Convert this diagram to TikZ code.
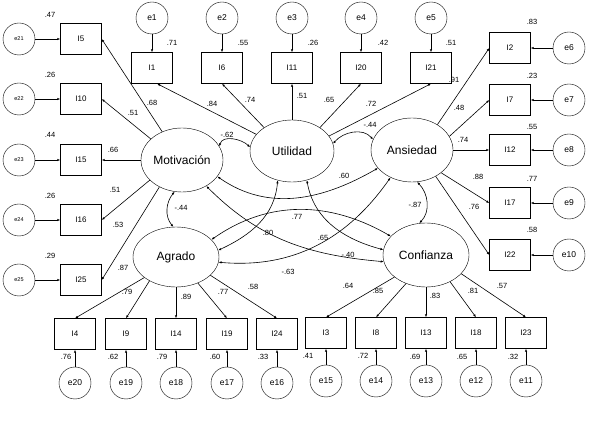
\documentclass[tikz,border=0pt]{standalone}
\usepackage{fontspec}
\setmainfont{Liberation Sans}
\usetikzlibrary{shapes.geometric,arrows.meta}

\begin{document}
\begin{tikzpicture}[x=1pt, y=1pt,
  obs/.style={draw, rectangle, minimum width=41pt, minimum height=31pt,
    inner sep=0pt, font=\fontsize{8}{9}\selectfont},
  err/.style={draw, circle, minimum size=32pt, inner sep=0pt,
    font=\fontsize{8.5}{9}\selectfont},
  errsmall/.style={err, font=\fontsize{5.5}{6}\selectfont},
  lat/.style={draw, ellipse, inner sep=0pt,
    label={[font=\fontsize{12}{14}\selectfont]center:#1}},
  coef/.style={font=\fontsize{7.5}{8}\selectfont, inner sep=0pt},
  load/.style={-{Latex[length=3pt, width=2.4pt]}, line width=0.6pt},
  cov/.style={{Latex[length=3pt, width=2.4pt]}-{Latex[length=3pt, width=2.4pt]},
    line width=0.6pt},
]
  \useasboundingbox (0,0) rectangle (590,-422);

  % latent factors
  \node[lat=Motivación, minimum width=82pt, minimum height=64pt] (Mot) at (182,-160) {};
  \node[lat=Utilidad, minimum width=84pt, minimum height=62pt] (Uti) at (292,-151) {};
  \node[lat=Ansiedad, minimum width=82pt, minimum height=64pt] (Ans) at (412,-150) {};
  \node[lat=Agrado, minimum width=86pt, minimum height=60pt] (Agr) at (176,-257) {};
  \node[lat=Confianza, minimum width=86pt, minimum height=64pt] (Con) at (426,-255) {};

  % Motivación items
  \node[obs] (I5) at (81,-39) {I5};
  \node[obs] (I10) at (81,-99) {I10};
  \node[obs] (I15) at (81,-160) {I15};
  \node[obs] (I16) at (81,-220) {I16};
  \node[obs] (I25) at (81,-280) {I25};
  \node[errsmall] (e21) at (19,-39) {e21};
  \node[errsmall] (e22) at (19,-99) {e22};
  \node[errsmall] (e23) at (19,-160) {e23};
  \node[errsmall] (e24) at (19,-220) {e24};
  \node[errsmall] (e25) at (19,-280) {e25};
  \draw[load] (Mot.125) -- (I5.east);
  \draw[load] (Mot.146) -- (I10.east);
  \draw[load] (Mot.west) -- (I15.east);
  \draw[load] (Mot.212) -- (I16.east);
  \draw[load] (Mot.230) -- (I25.east);
  \draw[load] (e21) -- (I5);
  \draw[load] (e22) -- (I10);
  \draw[load] (e23) -- (I15);
  \draw[load] (e24) -- (I16);
  \draw[load] (e25) -- (I25);
  \node[coef] (vI5) at (50,-15) {.47};
  \node[coef] (vI10) at (50,-75) {.26};
  \node[coef] (vI15) at (50,-135) {.44};
  \node[coef] (vI16) at (50,-196) {.26};
  \node[coef] (vI25) at (50,-256) {.29};
  \node[coef] (lI5) at (152,-103) {.68};
  \node[coef] (lI10) at (133,-113) {.51};
  \node[coef] (lI15) at (113,-150) {.66};
  \node[coef] (lI16) at (115,-190) {.51};
  \node[coef] (lI25) at (118,-225) {.53};

  % Utilidad items
  \node[obs] (I1) at (152,-68) {I1};
  \node[obs] (I6) at (222,-68) {I6};
  \node[obs] (I11) at (292,-68) {I11};
  \node[obs] (I20) at (361,-68) {I20};
  \node[obs] (I21) at (431,-68) {I21};
  \node[err] (e1) at (152,-18) {e1};
  \node[err] (e2) at (222,-18) {e2};
  \node[err] (e3) at (292,-18) {e3};
  \node[err] (e4) at (361,-18) {e4};
  \node[err] (e5) at (431,-18) {e5};
  \draw[load] (Uti.155) -- (I1.-72);
  \draw[load] (Uti.140) -- (I6.south);
  \draw[load] (Uti.north) -- (I11.south);
  \draw[load] (Uti.40) -- (I20.south);
  \draw[load] (Uti.22) -- (I21.south);
  \draw[load] (e1) -- (I1);
  \draw[load] (e2) -- (I6);
  \draw[load] (e3) -- (I11);
  \draw[load] (e4) -- (I20);
  \draw[load] (e5) -- (I21);
  \node[coef] (vI1) at (172,-43) {.71};
  \node[coef] (vI6) at (243,-43) {.55};
  \node[coef] (vI11) at (313,-43) {.26};
  \node[coef] (vI20) at (383,-43) {.42};
  \node[coef] (vI21) at (451,-43) {.51};
  \node[coef] (lI1) at (212,-104) {.84};
  \node[coef] (lI6) at (250,-100) {.74};
  \node[coef] (lI11) at (302,-96) {.51};
  \node[coef] (lI20) at (329,-100) {.65};
  \node[coef] (lI21) at (371,-104) {.72};

  % Ansiedad items
  \node[obs] (I2) at (510,-48) {I2};
  \node[obs] (I7) at (510,-100) {I7};
  \node[obs] (I12) at (510,-150) {I12};
  \node[obs] (I17) at (510,-203) {I17};
  \node[obs] (I22) at (510,-255) {I22};
  \node[err] (e6) at (569,-48) {e6};
  \node[err] (e7) at (569,-100) {e7};
  \node[err] (e8) at (569,-150) {e8};
  \node[err] (e9) at (569,-203) {e9};
  \node[err] (e10) at (569,-255) {e10};
  \draw[load] (Ans.45) -- (I2.west);
  \draw[load] (Ans.20) -- (I7.west);
  \draw[load] (Ans.east) -- (I12.west);
  \draw[load] (Ans.-38) -- (I17.west);
  \draw[load] (Ans.-48) -- (I22.west);
  \draw[load] (e6) -- (I2);
  \draw[load] (e7) -- (I7);
  \draw[load] (e8) -- (I12);
  \draw[load] (e9) -- (I17);
  \draw[load] (e10) -- (I22);
  \node[coef] (vI2) at (532,-22) {.83};
  \node[coef] (vI7) at (532,-76) {.23};
  \node[coef] (vI12) at (532,-127) {.55};
  \node[coef] (vI17) at (532,-179) {.77};
  \node[coef] (vI22) at (532,-230) {.58};
  \node[coef] (lI2) at (454,-80) {.91};
  \node[coef] (lI7) at (459,-108) {.48};
  \node[coef] (lI12) at (463,-140) {.74};
  \node[coef] (lI17) at (478,-177) {.88};
  \node[coef] (lI22) at (474,-207) {.76};

  % Agrado items
  \node[obs] (I4) at (75,-334) {I4};
  \node[obs] (I9) at (126,-334) {I9};
  \node[obs] (I14) at (176,-334) {I14};
  \node[obs] (I19) at (227,-334) {I19};
  \node[obs] (I24) at (277,-334) {I24};
  \node[err] (e20) at (75,-383) {e20};
  \node[err] (e19) at (126,-383) {e19};
  \node[err] (e18) at (176,-383) {e18};
  \node[err] (e17) at (227,-383) {e17};
  \node[err] (e16) at (277,-383) {e16};
  \draw[load] (Agr.213) -- (I4.north);
  \draw[load] (Agr.222) -- (I9.north);
  \draw[load] (Agr.south) -- (I14.north);
  \draw[load] (Agr.-50) -- (I19.north);
  \draw[load] (Agr.-28) -- (I24.north);
  \draw[load] (e20) -- (I4);
  \draw[load] (e19) -- (I9);
  \draw[load] (e18) -- (I14);
  \draw[load] (e17) -- (I19);
  \draw[load] (e16) -- (I24);
  \node[coef] (lI4) at (123,-268) {.87};
  \node[coef] (lI9) at (127,-292) {.79};
  \node[coef] (lI14) at (186,-297) {.89};
  \node[coef] (lI19) at (223,-292) {.77};
  \node[coef] (lI24) at (253,-287) {.58};
  \node[coef] (vI4) at (66,-357) {.76};
  \node[coef] (vI9) at (113,-357) {.62};
  \node[coef] (vI14) at (162,-357) {.79};
  \node[coef] (vI19) at (215,-357) {.60};
  \node[coef] (vI24) at (263,-357) {.33};

  % Confianza items
  \node[obs] (I3) at (326,-333) {I3};
  \node[obs] (I8) at (376,-333) {I8};
  \node[obs] (I13) at (426,-333) {I13};
  \node[obs] (I18) at (476,-333) {I18};
  \node[obs] (I23) at (526,-333) {I23};
  \node[err] (e15) at (326,-381) {e15};
  \node[err] (e14) at (376,-381) {e14};
  \node[err] (e13) at (426,-381) {e13};
  \node[err] (e12) at (476,-381) {e12};
  \node[err] (e11) at (526,-381) {e11};
  \draw[load] (Con.215) -- (I3.north);
  \draw[load] (Con.235) -- (I8.north);
  \draw[load] (Con.south) -- (I13.north);
  \draw[load] (Con.-48) -- (I18.north);
  \draw[load] (Con.-28) -- (I23.north);
  \draw[load] (e15) -- (I3);
  \draw[load] (e14) -- (I8);
  \draw[load] (e13) -- (I13);
  \draw[load] (e12) -- (I18);
  \draw[load] (e11) -- (I23);
  \node[coef] (lI3) at (348,-286) {.64};
  \node[coef] (lI8) at (378,-291) {.85};
  \node[coef] (lI13) at (435,-296) {.83};
  \node[coef] (lI18) at (473,-291) {.81};
  \node[coef] (lI23) at (502,-286) {.57};
  \node[coef] (vI3) at (308,-356) {.41};
  \node[coef] (vI8) at (363,-356) {.72};
  \node[coef] (vI13) at (415,-357) {.69};
  \node[coef] (vI18) at (462,-357) {.65};
  \node[coef] (vI23) at (513,-357) {.32};

  % correlations between factors
  \draw[cov] (Mot.20) to[out=75,in=135] (Uti.175);
  \draw[cov] (Uti.10) to[out=50,in=130] (Ans.165);
  \draw[cov] (Mot.-25) to[out=-35,in=-150] (Ans.208);
  \draw[cov] (Mot.257) to[out=230,in=130] (Agr.95);
  \draw[cov] (Ans.-81) to[out=-45,in=45] (Con.102);
  \draw[cov] (Uti.244) to[out=-95,in=25] (Agr.9);
  \draw[cov] (Uti.297) to[out=-80,in=165] (Con.173);
  \draw[cov] (Agr.26) to[out=35,in=150] (Con.152);
  \draw[cov] (Mot.313) to[out=-45,in=175] (Con.189);
  \draw[cov] (Agr.353) to[out=-5,in=235] (Ans.232);
  \node[coef] (cMU) at (227,-135) {-.62};
  \node[coef] (cUA) at (370,-125) {-.44};
  \node[coef] (cMA) at (344,-176) {.60};
  \node[coef] (cMG) at (181,-208) {-.44};
  \node[coef] (cAC) at (415,-205) {-.87};
  \node[coef] (cGC) at (297,-217) {.77};
  \node[coef] (cUG) at (268,-233) {.80};
  \node[coef] (cUC) at (323,-238) {.65};
  \node[coef] (cMC) at (348,-255) {-.40};
  \node[coef] (cGA) at (288,-272) {-.63};
\end{tikzpicture}
\end{document}
